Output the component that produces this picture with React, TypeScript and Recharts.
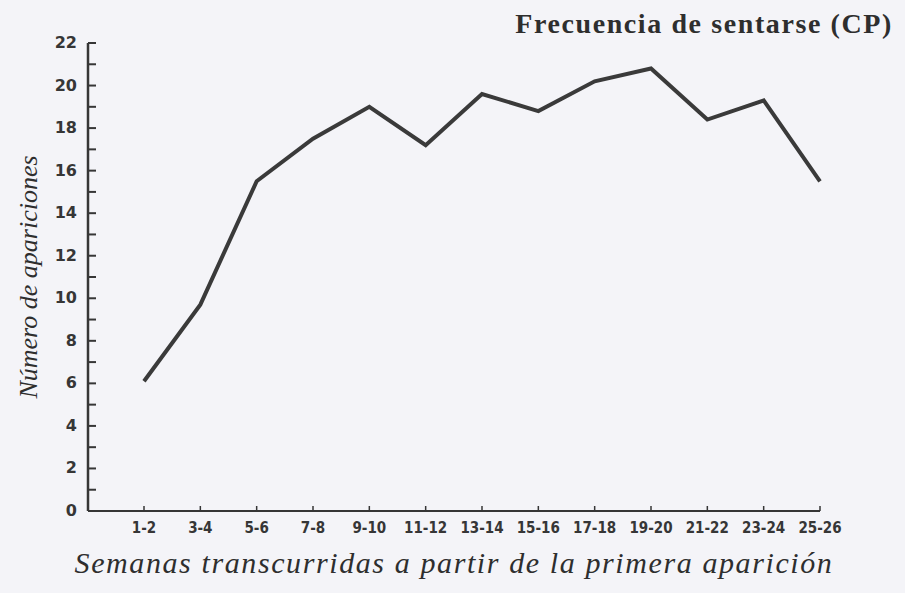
import React from "react";
import { Label, Line, LineChart, XAxis, YAxis } from "recharts";

const weeks = ["1-2", "3-4", "5-6", "7-8", "9-10", "11-12", "13-14", "15-16", "17-18", "19-20", "21-22", "23-24", "25-26"];
const appearances = [6.1, 9.7, 15.5, 17.5, 19.0, 17.2, 19.6, 18.8, 20.2, 20.8, 18.4, 19.3, 15.5];
const yTicks = [0, 1, 2, 3, 4, 5, 6, 7, 8, 9, 10, 11, 12, 13, 14, 15, 16, 17, 18, 19, 20, 21, 22];

const data = weeks.map((week, i) => ({ week, count: appearances[i] }));

const ink = "#363636";

const YTick = (props: any) => {
  const { x, y, payload } = props;
  const v = payload.value;
  return (
    <g>
      <line x1={x} y1={y} x2={x + 8} y2={y} stroke={ink} strokeWidth={2} />
      {v % 2 === 0 && (
        <text x={x - 11} y={y} dy={5} textAnchor="end" fill={ink}
          style={{ fontFamily: "DejaVu Sans", fontWeight: 700, fontSize: 16 }}>
          {v}
        </text>
      )}
    </g>
  );
};

const XTick = (props: any) => {
  const { x, y, payload } = props;
  return (
    <g>
      <line x1={x} y1={y} x2={x} y2={y - 5} stroke={ink} strokeWidth={1.5} />
      <text x={x} y={y} dy={22} textAnchor="middle" fill={ink}
        style={{ fontFamily: "DejaVu Sans Condensed", fontWeight: 700, fontSize: 15 }}>
        {payload.value}
      </text>
    </g>
  );
};

export default function App() {
  return (
    <div style={{ position: "absolute", left: 0, top: 0, width: 905, height: 593, background: "#f4f4f8" }}>
      <div
        style={{
          position: "absolute",
          right: 12,
          top: 10,
          fontFamily: "Liberation Serif",
          fontWeight: 700,
          fontSize: 28,
          letterSpacing: 1.6,
          lineHeight: 1,
          color: "#2e2e2e",
          whiteSpace: "nowrap",
        }}
      >
        Frecuencia de sentarse (CP)
      </div>
      <LineChart width={905} height={593} data={data} margin={{ top: 43, right: 85, bottom: 0, left: 0 }}>
        <XAxis
          dataKey="week"
          scale="point"
          padding={{ left: 56, right: 0 }}
          height={82}
          axisLine={{ stroke: ink, strokeWidth: 2 }}
          tickLine={false}
          tickSize={0}
          tickMargin={0}
          interval={0}
          tick={<XTick />}
        >
          <Label
            value="Semanas transcurridas a partir de la primera aparición"
            position="insideBottom"
            offset={20}
            style={{ fontFamily: "Liberation Serif", fontStyle: "italic", fontSize: 30, fill: "#2e2e2e", letterSpacing: 1.6 }}
          />
        </XAxis>
        <YAxis
          width={88}
          domain={[0, 22]}
          ticks={yTicks}
          interval={0}
          axisLine={{ stroke: ink, strokeWidth: 2.5 }}
          tickLine={false}
          tickSize={0}
          tickMargin={0}
          tick={<YTick />}
        >
          <Label
            value="Número de apariciones"
            angle={-90}
            position="insideLeft"
            offset={28}
            style={{ textAnchor: "middle", fontFamily: "Liberation Serif", fontStyle: "italic", fontSize: 26, fill: "#2e2e2e" }}
          />
        </YAxis>
        <Line
          type="linear"
          dataKey="count"
          stroke="#3a3a3a"
          strokeWidth={4}
          dot={false}
          isAnimationActive={false}
        />
      </LineChart>
    </div>
  );
}
